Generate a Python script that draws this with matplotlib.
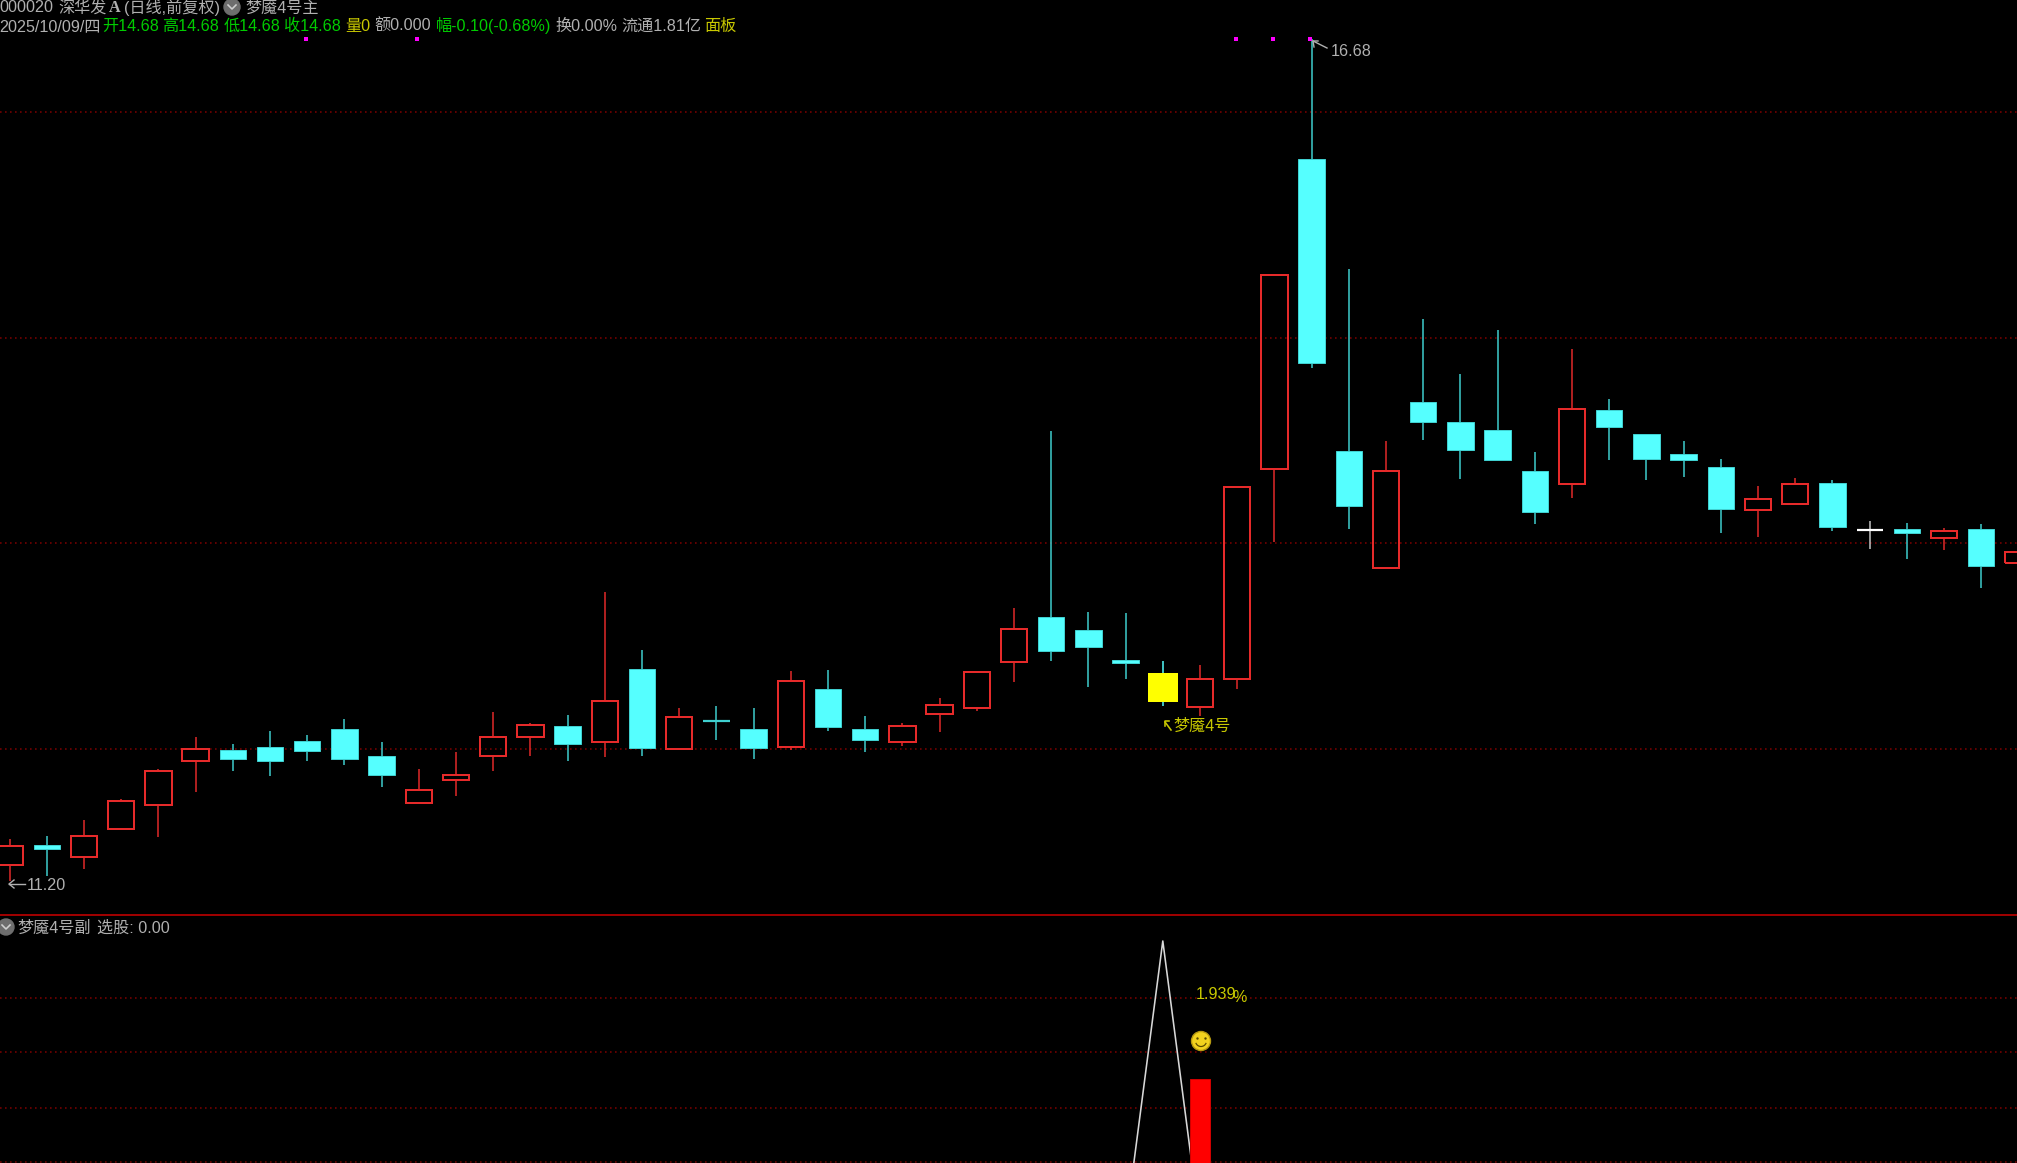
import matplotlib
matplotlib.use("Agg")
import matplotlib.pyplot as plt
from matplotlib.patches import Circle, Arc

plt.rcParams['font.family'] = ['Liberation Sans', 'Noto Sans CJK SC', 'DejaVu Sans']
plt.rcParams['lines.scale_dashes'] = False

W, H = 2017, 1163
DIVIDER = 915

highs = [11.478,11.495,11.599,11.738,11.929,12.142,12.092,12.178,12.155,12.256,
         12.109,11.935,12.040,12.306,12.230,12.282,13.085,12.705,12.332,12.343,
         12.326,12.567,12.578,12.274,12.230,12.396,12.565,12.981,14.131,12.955,
         12.946,12.636,12.610,13.766,15.150,16.680,15.187,14.070,14.858,14.504,
         14.788,13.992,14.667,14.339,14.114,14.070,13.951,13.775,13.829,13.812,
         13.545,13.534,13.499,13.528,13.343]
lows = [11.202,11.239,11.283,11.543,11.488,11.784,11.920,11.885,11.981,11.955,
        11.816,11.714,11.755,11.920,12.015,11.981,12.007,12.015,12.060,12.120,
        11.999,12.059,12.178,12.041,12.085,12.172,12.308,12.500,12.636,12.465,
        12.517,12.343,12.280,12.456,13.408,14.539,13.493,13.243,14.072,13.821,
        13.942,13.528,13.693,13.942,13.812,13.831,13.467,13.441,13.658,13.484,
        13.363,13.296,13.356,13.113,13.270]
# upper and lower edge of each candle body
body_top = [11.432,11.436,11.493,11.727,11.918,12.064,12.057,12.074,12.116,12.194,
            12.014,11.797,11.892,12.142,12.220,12.213,12.373,12.584,12.272,12.243,
            12.194,12.504,12.454,12.194,12.211,12.347,12.565,12.842,12.920,12.835,
            12.643,12.556,12.521,13.766,15.150,15.903,14.000,13.870,14.322,14.192,
            14.140,13.870,14.276,14.270,14.114,13.983,13.896,13.688,13.784,13.795,
            13.489,13.493,13.482,13.493,13.343]
body_bot = [11.309,11.413,11.361,11.543,11.697,11.983,11.999,11.981,12.051,11.999,
            11.894,11.714,11.862,12.018,12.139,12.094,12.105,12.068,12.060,12.243,
            12.068,12.077,12.207,12.120,12.111,12.293,12.328,12.630,12.699,12.723,
            12.621,12.369,12.337,12.519,13.886,14.576,13.641,13.243,14.192,14.011,
            13.942,13.606,13.788,14.159,13.951,13.942,13.623,13.616,13.658,13.508,
            13.489,13.467,13.434,13.252,13.270]
# r = rising (hollow red), f = falling (cyan), y = marked day, w = flat day
kinds = ['r','f','r','r','r','r','f','f','f','f',
         'f','r','r','r','r','f','r','f','r','f',
         'f','r','f','f','r','r','r','r','f','f',
         'f','y','r','r','r','f','f','r','f','f',
         'f','f','r','f','f','f','f','r','r','f',
         'w','f','r','f','r']
signal_days = [8, 11, 33, 34, 35]
signal_level = 16.68
grid_prices = [16.211, 14.734, 13.403, 12.062]

pick_line = [0.0]*55
pick_line[31] = 1.0
pick_bar = [0.0]*55
pick_bar[32] = 0.516
sub_grid = [0.801, 0.611, 0.414, 0.225]

CYAN, RED, GRID = '#55FFFF', '#E62A2A', '#800000'
WICK_CYAN = '#3FD0D0'
GREY, GREEN, GOLD = '#B0B0B0', '#00CC00', '#C8C800'
px = 72/100

fig = plt.figure(figsize=(W/100, H/100), dpi=100, facecolor='black')
ax = fig.add_axes([0, 1-DIVIDER/H, 1, DIVIDER/H])
sub = fig.add_axes([0, 0, 1, 1-DIVIDER/H])
xlim = (-9.6/37.2, (W-9.6)/37.2)
k = 0.006508
ax.set_xlim(*xlim); ax.set_ylim(11.2+(881.5-DIVIDER)*k, 11.2+881.5*k)
sub.set_xlim(*xlim); sub.set_ylim((1226-1163)/285, (1226-DIVIDER)/285)
for a in (ax, sub):
    a.set_facecolor('black')
    a.set_xticks([]); a.set_yticks([])
    for s in a.spines.values():
        s.set_visible(False)

dots = (0, (1.6*px, 3.4*px))
for p in grid_prices:
    ax.axhline(p, color=GRID, lw=1.5*px, ls=dots, zorder=1)
for p in sub_grid:
    sub.axhline(p, color=GRID, lw=1.5*px, ls=dots, zorder=1)

for i, (h, l, t, b, c) in enumerate(zip(highs, lows, body_top, body_bot, kinds)):
    col = {'r': RED, 'f': WICK_CYAN, 'y': CYAN, 'w': '#C8C8C8'}[c]
    lw = 1.5*px
    if h > t:
        ax.vlines(i, t, h, color=col, lw=lw, zorder=2)
    if l < b:
        ax.vlines(i, l, b, color=col, lw=lw, zorder=2)
    if c == 'r':
        ax.bar(i, t-b, 26.5/37.2, b, facecolor='none', edgecolor=RED, lw=2*px, zorder=3)
    elif c == 'f':
        if t == b:
            ax.hlines(t, i-13.5/37.2, i+13.5/37.2, color=WICK_CYAN, lw=2.2*px, zorder=3)
        else:
            ax.bar(i, t-b, 26.5/37.2, b, facecolor=CYAN, edgecolor=WICK_CYAN, lw=1*px, zorder=3)
    elif c == 'y':
        ax.bar(i, t-b, 30/37.2, b, facecolor='#FFFF00', edgecolor='none', zorder=3)
    else:
        ax.hlines(t, i-13/37.2, i+13/37.2, color='white', lw=2.2*px, zorder=3)
ax.plot([d-0.04 for d in signal_days], [signal_level]*5, ls='none', marker='s',
        ms=4*px, color='#FF00FF', mew=0, zorder=5)

sub.plot(range(55), pick_line, color='#D8D8D8', lw=1.6*px, zorder=2)
sub.bar(range(55), pick_bar, 20/37.2, color='#FF0000', edgecolor='#D00000', lw=1*px, zorder=3)
sub.set_ylim((1226-1163)/285, (1226-DIVIDER)/285)

def T(x, y, s, color=GREY, size=11.6, **kw):
    fig.text(x/W, 1-y/H, s, color=color, fontsize=size, ha='left', va='baseline', **kw)

fig.add_artist(plt.Line2D([0, 1], [1-DIVIDER/H]*2, color='#B00000', lw=1.8*px))

# header
T(-1, 12.5, "000020")
T(58, 12.5, "深华发")
T(109, 12.5, "A", family='Liberation Serif', weight='bold')
T(124, 12.5, "(日线,前复权)")
T(245, 12.5, "梦魇4号主")
T(-1, 31, "2025/10/09/四")
T(102, 31, "开14.68", GREEN)
T(162, 31, "高14.68", GREEN)
T(224, 31, "低14.68", GREEN)
T(284, 31, "收14.68", GREEN)
T(345, 31, "量0", GOLD)
T(374, 31, "额0.000")
T(436, 31, "幅-0.10(-0.68%)", GREEN)
T(555, 31, "换0.00%")
T(621, 31, "流通1.81亿")
T(704, 31, "面板", GOLD)

# chevron icons, arrows and smiley, in figure pixels
ov = fig.add_axes([0, 0, 1, 1], facecolor='none')
ov.set_xlim(0, W); ov.set_ylim(H, 0); ov.axis('off')
for cx, cy in [(232, 7), (6, 927)]:
    ov.add_patch(Circle((cx, cy), 8, color='#6E6E6E'))
    ov.plot([cx-4, cx, cx+4], [cy-2, cy+2, cy-2], color='#D0D0D0', lw=1.6*px)
ov.add_patch(Circle((1201, 1041), 9.5, color='#F2D21E', ec='#B89A10'))
ov.plot([1197, 1205], [1037.5, 1037.5], ls='none', marker='o', ms=2.4*px, color='#5A4A00', mew=0)
ov.add_patch(Arc((1201, 1041), 11, 11, theta1=20, theta2=160, color='#5A4A00', lw=1.2*px))
# arrow beside the low price
ov.plot([9, 25], [884, 884], color=GREY, lw=1.4*px)
ov.plot([14, 9, 14], [880, 884, 888], color=GREY, lw=1.4*px)
# arrow beside the high price
ov.plot([1313, 1327], [41, 48], color=GREY, lw=1.4*px)
ov.plot([1318, 1313, 1314], [41, 41, 47], color=GREY, lw=1.4*px)
# arrow beside the signal label
ov.plot([1165, 1171], [722, 730], color=GOLD, lw=1.6*px)
ov.plot([1169, 1165, 1165], [721, 721, 726], color=GOLD, lw=1.6*px)

T(27, 890, "11.20")
T(1331, 56, "16.68")
T(1173, 731, "梦魇4号", GOLD)
T(17, 932.5, "梦魇4号副")
T(97, 932.5, "选股: 0.00")
T(1196, 999, "1.939", GOLD)
T(1232, 1002.5, "%", GOLD)

fig.savefig("out.png", dpi=100, facecolor='black')
